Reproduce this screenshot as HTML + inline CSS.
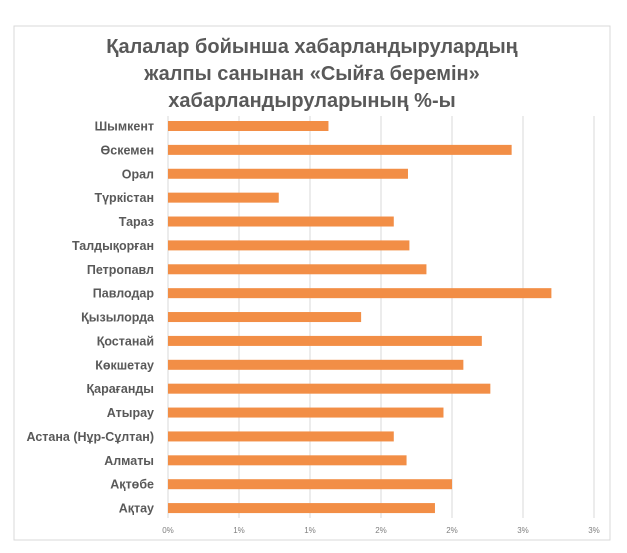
<!DOCTYPE html>
<html><head><meta charset="utf-8"><style>
body{margin:0;background:#fff;width:627px;height:548px;overflow:hidden;font-family:"Liberation Sans","DejaVu Sans",sans-serif}
</style></head><body>
<svg width="627" height="548" id="c">
<rect x="14" y="26" width="596" height="514" fill="#fff" stroke="#d9d9d9"/>
<g font-weight="bold" font-size="20" fill="#595959" text-anchor="middle">
<text x="312" y="53">Қалалар бойынша хабарландырулардың</text>
<text x="312" y="80">жалпы санынан «Сыйға беремін»</text>
<text x="312" y="107">хабарландыруларының %-ы</text>
</g>
<g id="grid"></g><g id="bars"></g><g id="labels"></g><g id="ticks"></g>
</svg>
<script>
const categories=["Шымкент","Өскемен","Орал","Түркістан","Тараз","Талдықорған","Петропавл","Павлодар","Қызылорда","Қостанай","Көкшетау","Қарағанды","Атырау","Астана (Нұр-Сұлтан)","Алматы","Ақтөбе","Ақтау"];
const values=[1.13,2.42,1.69,0.78,1.59,1.70,1.82,2.70,1.36,2.21,2.08,2.27,1.94,1.59,1.68,2.00,1.88];
const tickValues=[0,0.5,1,1.5,2,2.5,3];
const tickLabels=["0%","1%","1%","2%","2%","3%","3%"];
const NS="http://www.w3.org/2000/svg";
const x0=168,xPerUnit=142,y0=126,step=23.88;
const xs=v=>x0+v*xPerUnit, ys=i=>y0+i*step;
function mk(t,a,p){const e=document.createElementNS(NS,t);for(const k in a)e.setAttribute(k,a[k]);document.getElementById(p).appendChild(e);return e;}
tickValues.forEach((v,i)=>{
 const l=mk("line",{x1:xs(v),x2:xs(v),y1:116,y2:518,stroke:"#d9d9d9","stroke-width":1},"grid");
 
 
 const t=mk("text",{x:xs(v),y:533,"font-size":8,fill:"#7f7f7f","text-anchor":"middle"},"ticks");
 t.textContent=tickLabels[i];
 
 
});
categories.forEach((c,i)=>{
 const r=mk("rect",{x:x0,y:ys(i)-5,width:xs(values[i])-x0,height:10,fill:"#f28e46"},"bars");
 
 
 const t=mk("text",{x:154,y:ys(i)+4.5,"font-size":12.5,"font-weight":"bold",fill:"#595959","text-anchor":"end"},"labels");
 t.textContent=c;
 
 
});
</script>
</body></html>
